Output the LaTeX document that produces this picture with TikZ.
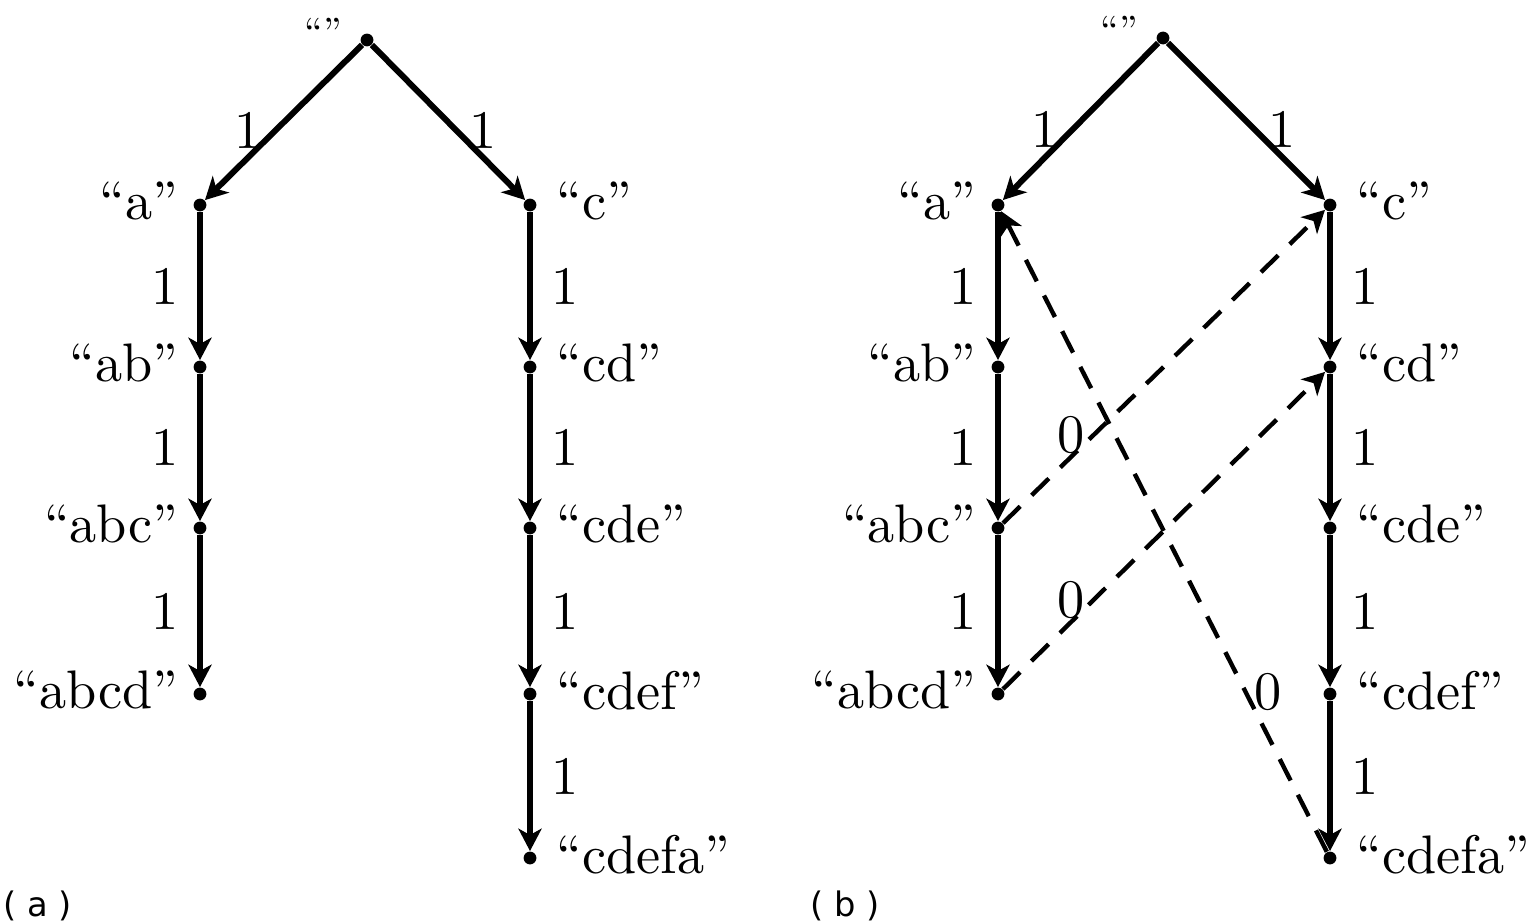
\documentclass[tikz,border=0pt]{standalone}
\usepackage{fontspec}
\setmainfont{lmroman10-regular}[Extension=.otf,Ligatures=TeX]
\newfontfamily\capfont{DejaVu Sans}
\usetikzlibrary{arrows.meta,positioning}

\begin{document}
\begin{tikzpicture}[x=0.125mm,y=-0.125mm,
  dot/.style={circle,fill,inner sep=0pt,minimum size=1.6mm},
  lbl/.style={font=\fontsize{19.3}{23}\selectfont,inner sep=1pt},
  llbl/.style={lbl,left=2.3mm,yshift=-0.4mm},
  rlbl/.style={lbl,right=2.9mm,yshift=-0.4mm},
  rootlbl/.style={font=\fontsize{14}{16}\selectfont,inner sep=0pt,xshift=-2.2mm,yshift=1mm},
  edge/.style={line width=0.75mm,-{Stealth[length=2.8mm,width=2.9mm,inset=0.8mm]}},
  zero/.style={edge,line width=0.55mm,dash pattern=on 3mm off 2mm},
  captxt/.style={font=\capfont\fontsize{12}{14}\selectfont,inner sep=0pt,anchor=west}]
  \useasboundingbox (0,0) rectangle (1531,923);
  %\draw[help lines,step=50] (0,0) grid (1531,923);

  % (a)
  \node[dot,label={[rootlbl]left:``''}] (r1) at (367,40) {};
  \node[dot,label={[llbl]``a''}] (a1) at (200,205) {};
  \node[dot,label={[llbl]``ab''}] (ab1) at (200,367) {};
  \node[dot,label={[llbl]``abc''}] (abc1) at (200,528) {};
  \node[dot,label={[llbl]``abcd''}] (abcd1) at (200,694) {};
  \node[dot,label={[rlbl]``c''}] (c1) at (530,205) {};
  \node[dot,label={[rlbl]``cd''}] (cd1) at (530,367) {};
  \node[dot,label={[rlbl]``cde''}] (cde1) at (530,528) {};
  \node[dot,label={[rlbl]``cdef''}] (cdef1) at (530,694) {};
  \node[dot,label={[rlbl]``cdefa''}] (cdefa1) at (530,858) {};

  \draw[edge] (r1) -- node[lbl,pos=0.55,left=1mm] {1} (a1);
  \draw[edge] (r1) -- node[lbl,pos=0.55,right=1mm] {1} (c1);
  \draw[edge] (a1) -- node[lbl,left=2mm] {1} (ab1);
  \draw[edge] (ab1) -- node[lbl,left=2mm] {1} (abc1);
  \draw[edge] (abc1) -- node[lbl,left=2mm] {1} (abcd1);
  \draw[edge] (c1) -- node[lbl,right=2mm] {1} (cd1);
  \draw[edge] (cd1) -- node[lbl,right=2mm] {1} (cde1);
  \draw[edge] (cde1) -- node[lbl,right=2mm] {1} (cdef1);
  \draw[edge] (cdef1) -- node[lbl,right=2mm] {1} (cdefa1);

  % (b)
  \node[dot,label={[rootlbl]left:``''}] (r2) at (1163,38) {};
  \node[dot,label={[llbl]``a''}] (a2) at (998,205) {};
  \node[dot,label={[llbl]``ab''}] (ab2) at (998,367) {};
  \node[dot,label={[llbl]``abc''}] (abc2) at (998,528) {};
  \node[dot,label={[llbl]``abcd''}] (abcd2) at (998,694) {};
  \node[dot,label={[rlbl]``c''}] (c2) at (1330,205) {};
  \node[dot,label={[rlbl]``cd''}] (cd2) at (1330,367) {};
  \node[dot,label={[rlbl]``cde''}] (cde2) at (1330,528) {};
  \node[dot,label={[rlbl]``cdef''}] (cdef2) at (1330,694) {};
  \node[dot,label={[rlbl]``cdefa''}] (cdefa2) at (1330,858) {};

  \draw[edge] (r2) -- node[lbl,pos=0.55,left=1mm] {1} (a2);
  \draw[edge] (r2) -- node[lbl,pos=0.55,right=1mm] {1} (c2);
  \draw[edge] (a2) -- node[lbl,left=2mm] {1} (ab2);
  \draw[edge] (ab2) -- node[lbl,left=2mm] {1} (abc2);
  \draw[edge] (abc2) -- node[lbl,left=2mm] {1} (abcd2);
  \draw[edge] (c2) -- node[lbl,right=2mm] {1} (cd2);
  \draw[edge] (cd2) -- node[lbl,right=2mm] {1} (cde2);
  \draw[edge] (cde2) -- node[lbl,right=2mm] {1} (cdef2);
  \draw[edge] (cdef2) -- node[lbl,right=2mm] {1} (cdefa2);
  % failure links
  \draw[zero] (abc2) -- node[lbl,pos=0.28,left=0.5mm] {0} (c2);
  \draw[zero] (abcd2) -- node[lbl,pos=0.28,left=0.5mm] {0} (cd2);
  \draw[zero] (cdefa2) -- node[lbl,pos=0.25,right=0.5mm] {0} (a2);

  \node[captxt] (capa) at (3,906) {( a )};
  \node[captxt] (capb) at (810,906) {( b )};
\end{tikzpicture}
\end{document}
